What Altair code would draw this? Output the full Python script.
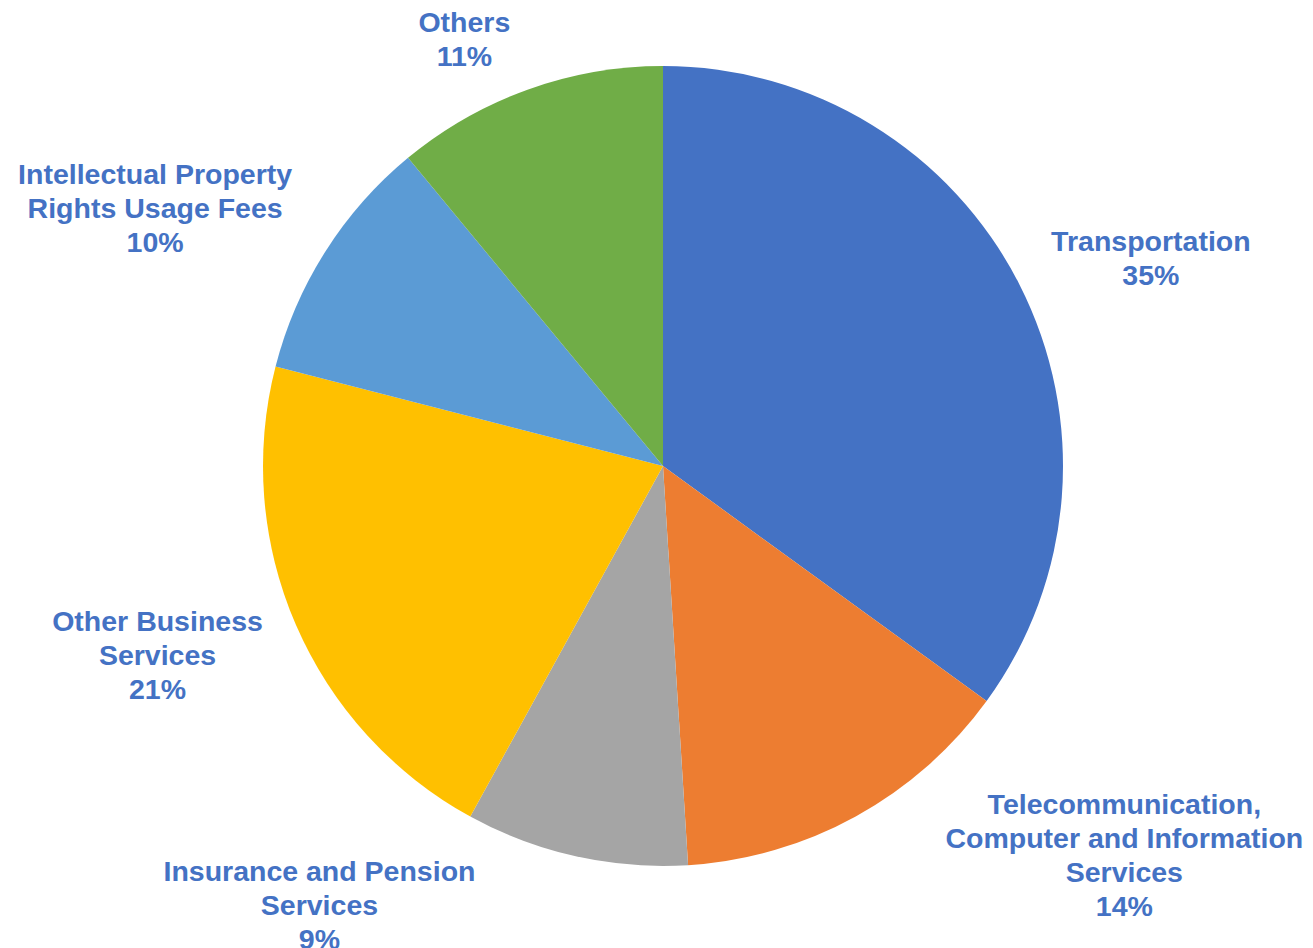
import math
import altair as alt
import pandas as pd

categories = ["Transportation", "Telecommunication, Computer and Information Services",
              "Insurance and Pension Services", "Other Business Services",
              "Intellectual Property Rights Usage Fees", "Others"]
shares = [35, 14, 9, 21, 10, 11]
label_lines = [
    "Transportation\n35%",
    "Telecommunication,\nComputer and Information\nServices\n14%",
    "Insurance and Pension\nServices\n9%",
    "Other Business\nServices\n21%",
    "Intellectual Property\nRights Usage Fees\n10%",
    "Others\n11%",
]
colors = ["#4472C4", "#ED7D31", "#A5A5A5", "#FFC000", "#5B9BD5", "#70AD47"]

# layout (pie centre, radius, label placement in polar terms)
CX, CY, R = 655, 458, 400
LINE_H = 34
label_angle_shift = [4, -21, 25.4, 2.8, -5.6, -5.2]
label_radius = [530, 604, 558, 540, 569, 470]

df = pd.DataFrame({"category": categories, "share": shares, "order": range(len(shares))})

total = sum(shares)
cum = 0
lx, ly = [], []
for s, da, r, t in zip(shares, label_angle_shift, label_radius, label_lines):
    mid = (cum + s / 2) / total * 360 + da
    cum += s
    a = math.radians(mid)
    n = len(t.split("\n"))
    lx.append(CX + r * math.sin(a))
    ly.append(CY - r * math.cos(a) - (n - 1) * LINE_H / 2)
labels = pd.DataFrame({"text": [t.split("\n") for t in label_lines], "lx": lx, "ly": ly})

pie = alt.Chart(df).mark_arc(outerRadius=R, stroke=None).encode(
    theta=alt.Theta("share:Q", stack=True),
    order=alt.Order("order:Q"),
    color=alt.Color("category:N", scale=alt.Scale(domain=categories, range=colors), legend=None),
    x=alt.value(CX),
    y=alt.value(CY),
)

text = alt.Chart(labels).mark_text(
    font="Liberation Sans", fontWeight="bold", fontSize=28.5, lineHeight=LINE_H,
    color="#4472C4", align="center", baseline="middle",
).encode(
    x=alt.X("lx:Q", scale=None, axis=None),
    y=alt.Y("ly:Q", scale=None, axis=None),
    text="text",
)

chart = alt.layer(pie, text).properties(
    width=1297, height=940,
    autosize=alt.AutoSizeParams(type="none"),
    padding=0,
).configure(background="white", view=alt.ViewConfig(stroke=None))

chart.save("out.html", embed_options={"renderer": "svg", "actions": False})
